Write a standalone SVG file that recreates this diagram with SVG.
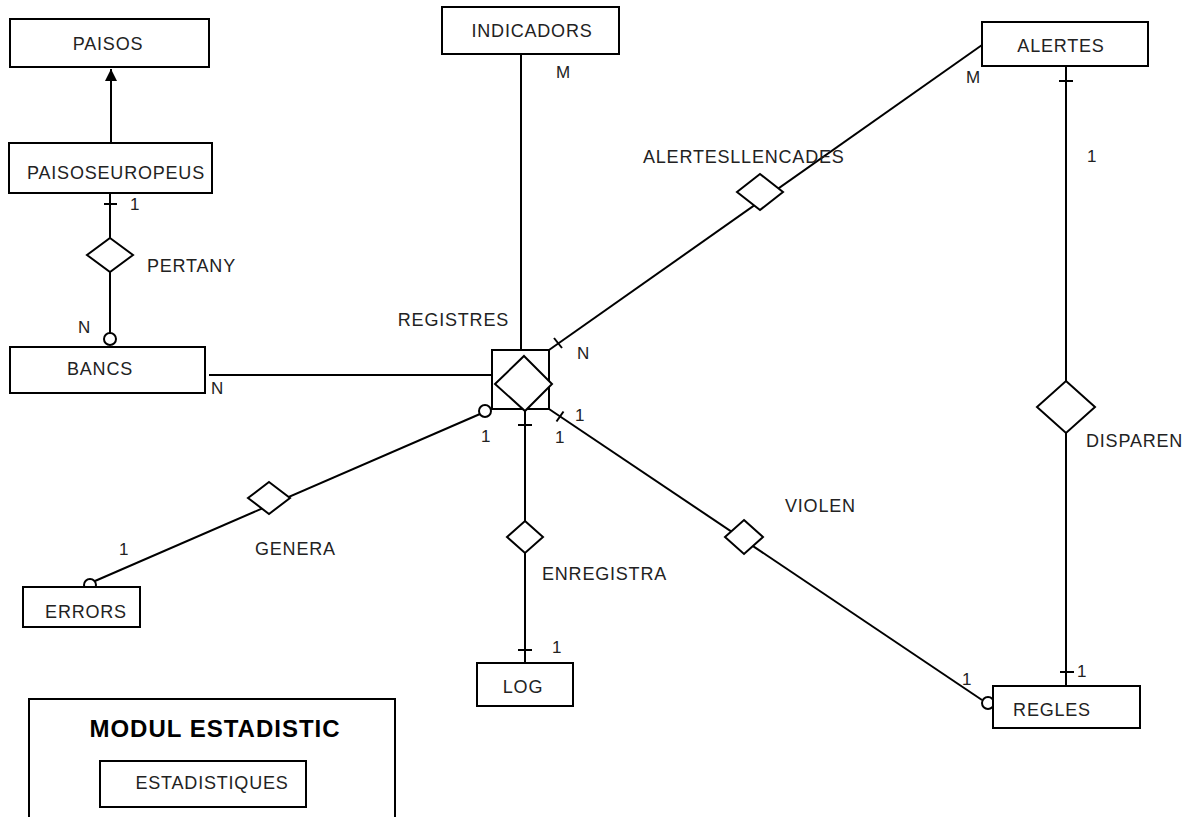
<svg xmlns="http://www.w3.org/2000/svg" width="1192" height="817" viewBox="0 0 1192 817">
<style>
.box{fill:#fff;stroke:#000;stroke-width:2}
.dia{fill:#fff;stroke:#000;stroke-width:2}
.ln{fill:none;stroke:#000;stroke-width:2}
.t{font-family:"Liberation Sans",Arial,sans-serif;font-size:18px;letter-spacing:0.8px;fill:#222}
.c{text-anchor:middle}
.s{font-family:"Liberation Sans",Arial,sans-serif;font-size:17px;fill:#222}
.b{font-family:"Liberation Sans",Arial,sans-serif;font-size:24px;font-weight:bold;letter-spacing:1px;fill:#000;text-anchor:middle}
.o{fill:#fff;stroke:#000;stroke-width:2}
</style>
<defs>
<marker id="arr" viewBox="0 0 12 12" refX="12" refY="6" markerWidth="12" markerHeight="12" markerUnits="userSpaceOnUse" orient="auto">
<path d="M0,0 L12,6 L0,12 Z" fill="#000"/>
</marker>
</defs>
<rect width="1192" height="817" fill="#fff"/>

<g id="connectors">
<line class="ln" x1="111" y1="143" x2="111" y2="69" marker-end="url(#arr)"/>
<line class="ln" x1="110" y1="193" x2="110" y2="333"/>
<line class="ln" x1="104" y1="204" x2="117" y2="204"/>
<line class="ln" x1="209" y1="375" x2="492" y2="375"/>
<line class="ln" x1="521" y1="54" x2="521" y2="350"/>
<line class="ln" x1="549" y1="350" x2="982" y2="45"/>
<line class="ln" x1="554" y1="338" x2="562" y2="348"/>
<line class="ln" x1="1066" y1="66" x2="1066" y2="686"/>
<line class="ln" x1="1059" y1="81" x2="1073" y2="81"/>
<line class="ln" x1="1060" y1="672" x2="1074" y2="672"/>
<line class="ln" x1="525" y1="409" x2="525" y2="663"/>
<line class="ln" x1="518" y1="425" x2="532" y2="425"/>
<line class="ln" x1="518" y1="650" x2="532" y2="650"/>
<line class="ln" x1="549" y1="409" x2="982" y2="700"/>
<line class="ln" x1="556.5" y1="421.5" x2="563.5" y2="411.5"/>
<line class="ln" x1="480" y1="414" x2="95" y2="581"/>
<circle class="o" cx="110" cy="339" r="6"/>
<circle class="o" cx="485" cy="411" r="6"/>
<circle class="o" cx="90" cy="585" r="6"/>
<circle class="o" cx="988" cy="703" r="6"/>
</g>

<g id="PAISOS"><rect class="box" x="10" y="19" width="199" height="48"/><text class="t c" x="108" y="50">PAISOS</text></g>
<g id="PAISOSEUROPEUS"><rect class="box" x="9" y="143" width="203" height="50"/><text class="t c" x="116" y="179">PAISOSEUROPEUS</text></g>
<g id="PERTANY"><polygon class="dia" points="110,238 133,255 110,272 87,255"/><text class="t" x="147" y="272">PERTANY</text></g>
<g id="BANCS"><rect class="box" x="10" y="347" width="195" height="46"/><text class="t c" x="100" y="375">BANCS</text></g>
<g id="INDICADORS"><rect class="box" x="442" y="7" width="177" height="47"/><text class="t c" x="532" y="37">INDICADORS</text></g>
<g id="ALERTES"><rect class="box" x="982" y="22" width="166" height="44"/><text class="t c" x="1061" y="52">ALERTES</text></g>
<g id="ALERTESLLENCADES"><polygon class="dia" points="760,174 783,192 760,210 737,192"/><text class="t" x="643" y="163">ALERTESLLENCADES</text></g>
<g id="REGISTRES"><rect class="box" x="492" y="350" width="57" height="59"/><polygon class="dia" points="524,356 552,384 525,411 495,384"/><text class="t" x="509" y="326" text-anchor="end">REGISTRES</text></g>
<g id="GENERA"><polygon class="dia" points="269,482 290,498 269,514 248,498"/><text class="t" x="255" y="555">GENERA</text></g>
<g id="ERRORS"><rect class="box" x="23" y="587" width="117" height="40"/><text class="t c" x="86" y="618">ERRORS</text></g>
<g id="ENREGISTRA"><polygon class="dia" points="525,521 543,537 525,553 507,537"/><text class="t" x="542" y="580">ENREGISTRA</text></g>
<g id="LOG"><rect class="box" x="477" y="663" width="96" height="43"/><text class="t c" x="523" y="693">LOG</text></g>
<g id="VIOLEN"><polygon class="dia" points="744,520 763,537 744,554 725,537"/><text class="t" x="785" y="512">VIOLEN</text></g>
<g id="REGLES"><rect class="box" x="993" y="686" width="147" height="42"/><text class="t c" x="1052" y="716">REGLES</text></g>
<g id="DISPAREN"><polygon class="dia" points="1066,381 1095,407 1066,433 1037,407"/><text class="t" x="1086" y="447">DISPAREN</text></g>
<g id="MODUL_ESTADISTIC"><rect class="box" x="29" y="699" width="366" height="130"/><text class="b" x="215" y="737">MODUL ESTADISTIC</text></g>
<g id="ESTADISTIQUES"><rect class="box" x="100" y="761" width="206" height="46"/><text class="t c" x="212" y="789">ESTADISTIQUES</text></g>

<g id="cardinalities">
<text class="s" x="130" y="210">1</text>
<text class="s" x="78" y="333">N</text>
<text class="s" x="211" y="394">N</text>
<text class="s" x="556" y="78">M</text>
<text class="s" x="966" y="83">M</text>
<text class="s" x="1087" y="162">1</text>
<text class="s" x="577" y="359">N</text>
<text class="s" x="481" y="442">1</text>
<text class="s" x="575" y="421">1</text>
<text class="s" x="555" y="443">1</text>
<text class="s" x="119" y="555">1</text>
<text class="s" x="552" y="653">1</text>
<text class="s" x="962" y="685">1</text>
<text class="s" x="1077" y="677">1</text>
</g>
</svg>
